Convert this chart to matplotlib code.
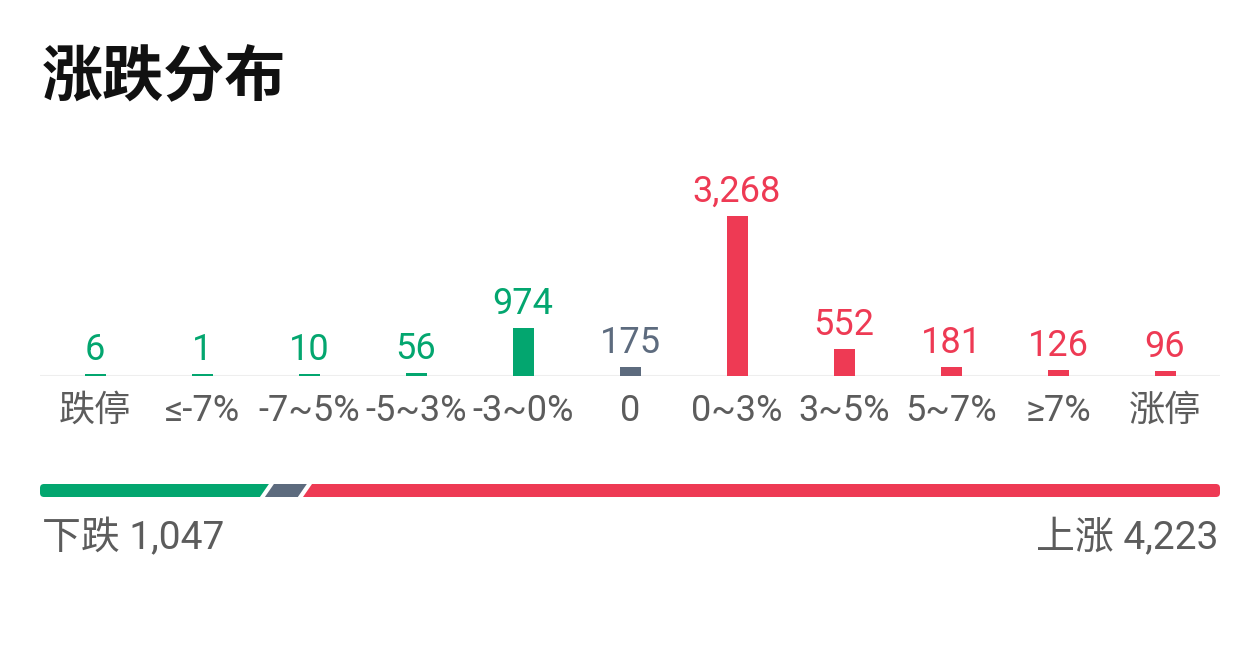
import numpy as np
import matplotlib
matplotlib.use('Agg')
import matplotlib.pyplot as plt
from matplotlib.patches import Polygon, FancyBboxPatch

plt.rcParams['font.family'] = ['Roboto', 'Noto Sans CJK SC', 'DejaVu Sans']

# data
categories = ['跌停', '≤-7%', '-7~5%', '-5~3%', '-3~0%', '0', '0~3%', '3~5%', '5~7%', '≥7%', '涨停']
counts = [6, 1, 10, 56, 974, 175, 3268, 552, 181, 126, 96]
kinds = ['down'] * 5 + ['flat'] + ['up'] * 5
down_total = 1047
flat_total = 175
up_total = 4223

colors = {'down': '#03a66f', 'flat': '#5d6b7e', 'up': '#ee3a54'}
label_gray = '#5c5c5c'

W, H = 1260, 654
fig = plt.figure(figsize=(W / 100, H / 100), dpi=100)
fig.patch.set_facecolor('white')


def box(x0, y0, x1, y1):
    # pixel box (top-left origin) -> figure fraction
    return [x0 / W, 1 - y1 / H, (x1 - x0) / W, (y1 - y0) / H]


# title
fig.text(42 / W, 1 - 78 / H, '涨跌分布', family=['Noto Sans CJK SC'], fontsize=44,
         fontweight='bold', color='#111111', va='center', ha='left')

# main bar chart
ax = fig.add_axes(box(40, 176, 1220, 376))
n = len(categories)
x = np.arange(n)
ymax = max(counts) * 200 / 160
min_h = ymax * 2.5 / 200
heights = [max(c, min_h) for c in counts]
bar_cols = [colors[k] for k in kinds]
ax.bar(x, heights, width=21 / 107, color=bar_cols, zorder=3)
for xi, h, c, col in zip(x, heights, counts, bar_cols):
    ax.annotate(f'{c:,}', (xi, h), xytext=(0, 6), textcoords='offset pixels',
                ha='center', va='bottom', fontsize=26, color=col)
ax.set_xlim(-55 / 107, n - 1 + 55 / 107)
ax.set_ylim(0, ymax)
ax.axhline(0, color='#eeeeee', lw=1.5, zorder=1)
for s in ax.spines.values():
    s.set_visible(False)
ax.set_yticks([])
ax.set_xticks(x)
ax.set_xticklabels(categories, fontsize=26, color=label_gray)
ax.tick_params(axis='x', length=0, pad=12)

# proportion bar
bx = fig.add_axes(box(40, 484, 1220, 497))
total = down_total + flat_total + up_total
bx.set_xlim(0, total)
bx.set_ylim(0, 1)
bx.axis('off')
upp = total / 1180  # data units per pixel
skew = 4.5 * upp
gap = 2.5 * upp
clip = FancyBboxPatch((0, 0), total, 1, boxstyle=f'round,pad=0,rounding_size={4 * upp}',
                      transform=bx.transData, facecolor='none', edgecolor='none',
                      mutation_aspect=1 / (13 * upp))
bx.add_patch(clip)
edges = [0, down_total, down_total + flat_total, total]
seg_cols = [colors['down'], colors['flat'], colors['up']]
for i, col in enumerate(seg_cols):
    l, r = edges[i], edges[i + 1]
    lb = l - skew + gap if i > 0 else l - 10 * upp
    lt = l + skew + gap if i > 0 else l - 10 * upp
    rb = r - skew - gap if i < 2 else r + 10 * upp
    rt = r + skew - gap if i < 2 else r + 10 * upp
    p = Polygon([(lb, 0), (rb, 0), (rt, 1), (lt, 1)], closed=True, color=col, lw=0)
    bx.add_patch(p)
    p.set_clip_path(clip)

fig.text(42 / W, 1 - 538 / H, f'下跌 {down_total:,}', fontsize=28, color=label_gray,
         ha='left', va='center')
fig.text(1218 / W, 1 - 538 / H, f'上涨 {up_total:,}', fontsize=28, color=label_gray,
         ha='right', va='center')

fig.savefig('out.png', dpi=100, facecolor='white')
